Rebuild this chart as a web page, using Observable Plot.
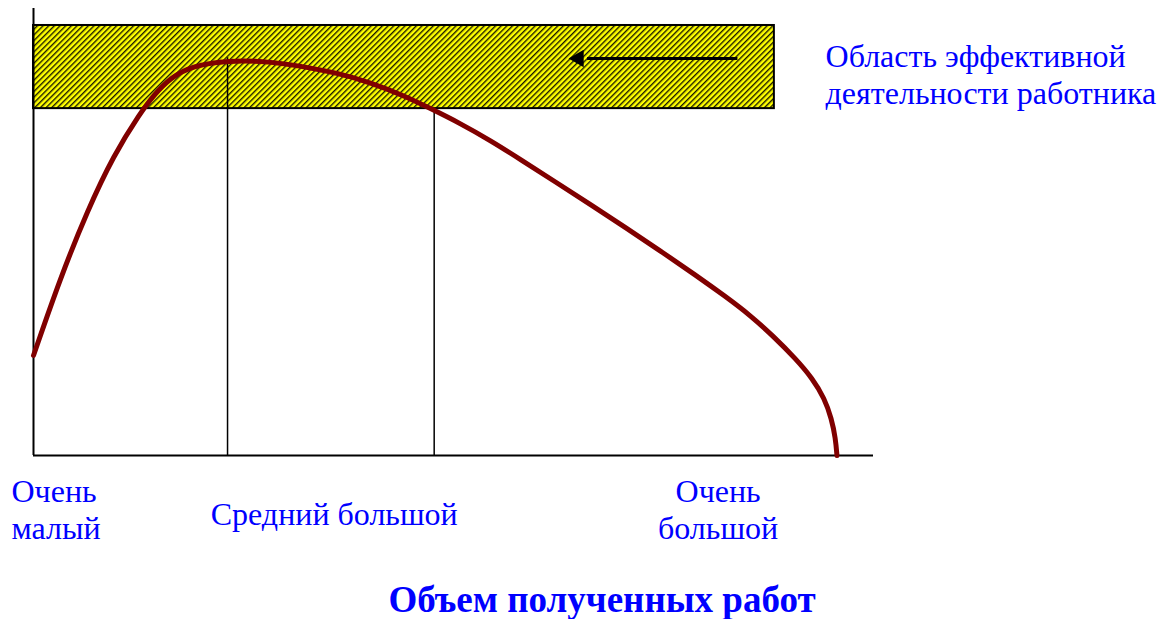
<!DOCTYPE html>
<html>
<head>
<meta charset="utf-8">
<script src="https://cdn.jsdelivr.net/npm/d3@7"></script>
<script src="https://cdn.jsdelivr.net/npm/@observablehq/plot@0.6"></script>
<style>
  body { margin: 0; background: #fff; }
  #chart svg { display: block; }
  #title { font-family: "Liberation Serif", "Times New Roman", serif; font-weight: bold; font-size: 37px; color: #0000ff; width: 1165px; text-align: center; padding-left: 39px; box-sizing: border-box; line-height: 40px; white-space: nowrap; }
</style>
</head>
<body>
<div id="chart"></div>
<div id="title">Объем полученных работ</div>
<script>
// Curve: performance vs. workload (x: 0..100 work volume, y: 0..100 performance)
const curveX = [0, 3.21, 6.43, 9.52, 12.74, 14.29, 16.31, 19.05, 23.21, 27.62, 31.79, 36.19, 40.12, 44.05, 47.26, 50.83, 54.40, 57.98, 62.14, 66.31, 70.48, 74.64, 78.81, 82.38, 85.36, 88.10, 90.71, 92.74, 94.17, 95.00, 95.48, 95.65];
const curveY = [22.37, 39.82, 54.81, 67.11, 76.73, 80.54, 84.56, 87.25, 88.37, 88.21, 87.14, 85.57, 83.45, 80.54, 77.63, 74.27, 70.47, 66.22, 61.19, 56.15, 51.01, 45.75, 40.38, 35.57, 31.32, 26.62, 21.70, 17.23, 12.75, 8.28, 3.80, 0];

// Effective zone band
const zoneX = [0, 88.2];
const zoneY = [77.6, 96.2];

// Reference verticals (x, top)
const refX = [23.1, 47.7];
const refTop = [89.0, 77.6];

// Arrow (from, to, level)
const arrowFrom = 83.8;
const arrowTo = 64.9;
const arrowY = 88.8;

// Category labels under the axis
const leftLabel = "Очень\nмалый";
const leftLabelX = -2.62;
const midLabel = "Средний большой";
const midLabelX = 35.8;
const rightLabel = "Очень\nбольшой";
const rightLabelX = 81.5;
const twoLineY = -11.9;
const oneLineY = -12.9;

const zoneLabel = "Область эффективной\nдеятельности работника";
const zoneLabelX = 94.29;
const zoneLabelY = 85.39;

const curve = curveX.map((x, i) => ({x, y: curveY[i]}));
const refs = refX.map((x, i) => ({x, top: refTop[i]}));

const font = '"Liberation Serif", "Times New Roman", serif';
const txt = {fontSize: 32, lineHeight: 1.156, fill: "#0000ff", lineAnchor: "middle"};

const plot = Plot.plot({
  width: 1165,
  height: 580,
  marginLeft: 33,
  marginRight: 292,
  marginTop: 8,
  marginBottom: 125,
  x: {domain: [0, 100], axis: null},
  y: {domain: [0, 100], axis: null},
  style: {fontFamily: font, background: "#fff", overflow: "visible"},
  marks: [
    Plot.rect([{}], {x1: zoneX[0], x2: zoneX[1], y1: zoneY[0], y2: zoneY[1], fill: "url(#hatch)"}),
    Plot.ruleX([0], {y1: 0, y2: 100, stroke: "#000", strokeWidth: 2}),
    Plot.ruleY([0], {x1: 0, x2: 100, stroke: "#000", strokeWidth: 2}),
    Plot.ruleX(refs, {x: "x", y1: 0, y2: "top", stroke: "#000", strokeWidth: 1.5}),
    Plot.rect([{}], {x1: zoneX[0], x2: zoneX[1], y1: zoneY[0], y2: zoneY[1], fill: "none", stroke: "#000", strokeWidth: 2}),
    Plot.line(curve, {x: "x", y: "y", curve: "basis", stroke: "#800000", strokeWidth: 5}),
    Plot.link([{}], {x1: arrowFrom, x2: arrowTo + 1, y1: arrowY, y2: arrowY, stroke: "#000", strokeWidth: 3}),
    Plot.dot([{}], {x: arrowTo, y: arrowY, symbol: "triangle", r: 6.5, rotate: -90, fill: "#000", stroke: "none"}),
    Plot.text([leftLabel], {x: leftLabelX, y: twoLineY, text: d => d, textAnchor: "start", ...txt}),
    Plot.text([midLabel], {x: midLabelX, y: oneLineY, text: d => d, textAnchor: "middle", ...txt}),
    Plot.text([rightLabel], {x: rightLabelX, y: twoLineY, text: d => d, textAnchor: "middle", ...txt}),
    Plot.text([zoneLabel], {x: zoneLabelX, y: zoneLabelY, text: d => d, textAnchor: "start", ...txt})
  ]
});

// hatch pattern definition
const svg = d3.select(plot);
const defs = svg.insert("defs", ":first-child");
const pat = defs.append("pattern").attr("id", "hatch").attr("patternUnits", "userSpaceOnUse")
  .attr("width", 4).attr("height", 4).attr("patternTransform", "rotate(45)");
pat.append("rect").attr("width", 4).attr("height", 4).attr("fill", "#ffff00");
pat.append("rect").attr("width", 1.4).attr("height", 4).attr("fill", "#1a1a00");

document.getElementById("chart").appendChild(plot);
</script>
</body>
</html>
